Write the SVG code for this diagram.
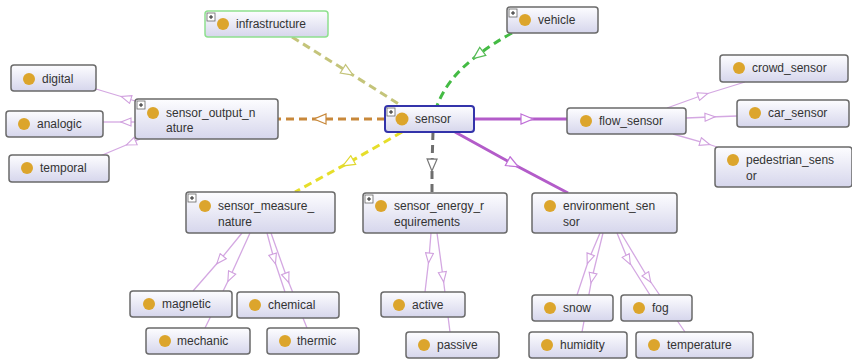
<svg xmlns="http://www.w3.org/2000/svg" width="852" height="359" viewBox="0 0 852 359">
<defs>
<linearGradient id="g" x1="0" y1="0" x2="0" y2="1">
<stop offset="0" stop-color="#fdfdff"/>
<stop offset="1" stop-color="#d6d6ec"/>
</linearGradient>
<marker id="mOl" viewBox="0 0 14 12" refX="7" refY="6" markerWidth="14" markerHeight="12" markerUnits="userSpaceOnUse" orient="auto"><path d="M1,1 L13,6 L1,11 Z" fill="#fff" stroke="#c4c47a" stroke-width="1.2"/></marker>
<marker id="mGr" viewBox="0 0 14 12" refX="7" refY="6" markerWidth="14" markerHeight="12" markerUnits="userSpaceOnUse" orient="auto"><path d="M1,1 L13,6 L1,11 Z" fill="#fff" stroke="#55bb55" stroke-width="1.2"/></marker>
<marker id="mOr" viewBox="0 0 14 12" refX="7" refY="6" markerWidth="14" markerHeight="12" markerUnits="userSpaceOnUse" orient="auto"><path d="M1,1 L13,6 L1,11 Z" fill="#fff" stroke="#c8883a" stroke-width="1.2"/></marker>
<marker id="mYe" viewBox="0 0 14 12" refX="7" refY="6" markerWidth="14" markerHeight="12" markerUnits="userSpaceOnUse" orient="auto"><path d="M1,1 L13,6 L1,11 Z" fill="#fff" stroke="#e0d830" stroke-width="1.2"/></marker>
<marker id="mGy" viewBox="0 0 14 12" refX="7" refY="6" markerWidth="14" markerHeight="12" markerUnits="userSpaceOnUse" orient="auto"><path d="M1,1 L13,6 L1,11 Z" fill="#fff" stroke="#777" stroke-width="1.2"/></marker>
<marker id="mPu" viewBox="0 0 14 12" refX="7" refY="6" markerWidth="14" markerHeight="12" markerUnits="userSpaceOnUse" orient="auto"><path d="M1,1 L13,6 L1,11 Z" fill="#fff" stroke="#c070d8" stroke-width="1.2"/></marker>
<marker id="mLa" viewBox="0 0 12 10" refX="6" refY="5" markerWidth="12" markerHeight="10" markerUnits="userSpaceOnUse" orient="auto"><path d="M1,1 L11,5 L1,9 Z" fill="#fff" stroke="#d0a0de" stroke-width="1.1"/></marker>
<g id="plus"><rect x="0" y="0" width="8" height="8" fill="#fff" stroke="#666" stroke-width="0.8"/><path d="M2,4 H6 M4,2 V6" stroke="#222" stroke-width="1"/></g>
</defs>
<style>
.n rect.b{fill:url(#g);stroke:#6a6a6a;stroke-width:1.5}
.n circle{fill:#dca52c}
.n text{font-family:"Liberation Sans",Arial,sans-serif;font-size:12px;fill:#333}
.d{fill:none;stroke-width:3;stroke-dasharray:8 5}
.p{fill:none;stroke:#b35cc9;stroke-width:3}
.s{fill:none;stroke:#d4a8e2;stroke-width:1.3}
</style>
<g id="connectors">
<path class="d" stroke="#c4c47a" marker-mid="url(#mOl)" d="M292,37 L348,72 L402,106"/>
<path class="d" stroke="#44bb44" marker-mid="url(#mGr)" d="M512,33 Q492,44 478,55 Q447,78 437,106"/>
<path class="d" stroke="#c8883a" marker-mid="url(#mOr)" d="M385,119 L320,119 L278,119"/>
<path class="d" stroke="#e6de2a" marker-mid="url(#mYe)" d="M402,132 L348,163 L295,192"/>
<path class="d" stroke="#6e6e6e" marker-mid="url(#mGy)" d="M433,132 L432,165 L432,193"/>
<path class="p" marker-mid="url(#mPu)" d="M474,119 L527,119 L567,119"/>
<path class="p" marker-mid="url(#mPu)" d="M455,132 L513,164 L568,193"/>
<path class="s" marker-mid="url(#mLa)" d="M135,101 L126,98 L96,89"/>
<path class="s" marker-mid="url(#mLa)" d="M135,122 L126,122 L103,122"/>
<path class="s" marker-mid="url(#mLa)" d="M140,139 L131,143 L100,156"/>
<path class="s" marker-mid="url(#mLa)" d="M667,108 L703,95 L745,82"/>
<path class="s" marker-mid="url(#mLa)" d="M686,118 L710,117 L737,116"/>
<path class="s" marker-mid="url(#mLa)" d="M673,134 L705,143 L717,147"/>
<path class="s" marker-mid="url(#mLa)" d="M242,233 L220,260 L193,291"/>
<path class="s" marker-mid="url(#mLa)" d="M250,233 L230,277 L205,328"/>
<path class="s" marker-mid="url(#mLa)" d="M267,233 L274,259 L285,292"/>
<path class="s" marker-mid="url(#mLa)" d="M271,233 L287,278 L307,328"/>
<path class="s" marker-mid="url(#mLa)" d="M431,233 L429,258 L425,292"/>
<path class="s" marker-mid="url(#mLa)" d="M437,233 L443,277 L450,332"/>
<path class="s" marker-mid="url(#mLa)" d="M600,233 L589,259 L577,295"/>
<path class="s" marker-mid="url(#mLa)" d="M603,233 L592,278 L582,332"/>
<path class="s" marker-mid="url(#mLa)" d="M617,233 L628,260 L650,295"/>
<path class="s" marker-mid="url(#mLa)" d="M621,233 L648,278 L685,332"/>
</g>
<g id="infrastructure" class="n"><rect class="b" x="205" y="11" width="123" height="26" rx="3" style="stroke:#8ee08e"/><use href="#plus" x="207" y="13"/><circle cx="223" cy="24" r="6"/><text x="236" y="28">infrastructure</text></g>
<g id="vehicle" class="n"><rect class="b" x="507" y="7" width="91" height="26" rx="3"/><use href="#plus" x="509" y="9"/><circle cx="525" cy="20" r="6"/><text x="538" y="24">vehicle</text></g>
<g id="digital" class="n"><rect class="b" x="11" y="65" width="85" height="26" rx="3"/><circle cx="29" cy="79" r="6"/><text x="42" y="83">digital</text></g>
<g id="analogic" class="n"><rect class="b" x="6" y="111" width="97" height="26" rx="3"/><circle cx="24" cy="124" r="6"/><text x="37" y="128">analogic</text></g>
<g id="temporal" class="n"><rect class="b" x="9" y="155" width="100" height="27" rx="3"/><circle cx="27" cy="168" r="6"/><text x="40" y="172">temporal</text></g>
<g id="sensor_output_nature" class="n"><rect class="b" x="135" y="99" width="143" height="40" rx="3"/><use href="#plus" x="137" y="101"/><circle cx="153" cy="113" r="6"/><text x="166" y="117">sensor_output_n</text><text x="166" y="132">ature</text></g>
<g id="sensor" class="n"><rect class="b" x="385" y="106" width="89" height="26" rx="3" style="stroke:#3333aa;stroke-width:2"/><use href="#plus" x="387" y="108"/><circle cx="402" cy="119" r="6.5"/><text x="415" y="123">sensor</text></g>
<g id="flow_sensor" class="n"><rect class="b" x="567" y="108" width="119" height="26" rx="3"/><circle cx="586" cy="121" r="6"/><text x="599" y="125">flow_sensor</text></g>
<g id="crowd_sensor" class="n"><rect class="b" x="720" y="55" width="128" height="27" rx="3"/><circle cx="739" cy="68" r="6"/><text x="752" y="72">crowd_sensor</text></g>
<g id="car_sensor" class="n"><rect class="b" x="737" y="100" width="112" height="27" rx="3"/><circle cx="755" cy="113" r="6"/><text x="768" y="117">car_sensor</text></g>
<g id="pedestrian_sensor" class="n"><rect class="b" x="715" y="147" width="137" height="40" rx="3"/><circle cx="733" cy="160" r="6"/><text x="746" y="164">pedestrian_sens</text><text x="746" y="180">or</text></g>
<g id="sensor_measure_nature" class="n"><rect class="b" x="186" y="192" width="149" height="41" rx="3"/><use href="#plus" x="188" y="194"/><circle cx="205" cy="206" r="6"/><text x="218" y="210">sensor_measure_</text><text x="218" y="226">nature</text></g>
<g id="sensor_energy_requirements" class="n"><rect class="b" x="363" y="193" width="144" height="40" rx="3"/><use href="#plus" x="365" y="195"/><circle cx="381" cy="206" r="6"/><text x="394" y="210">sensor_energy_r</text><text x="394" y="226">equirements</text></g>
<g id="environment_sensor" class="n"><rect class="b" x="532" y="193" width="145" height="40" rx="3"/><circle cx="550" cy="206" r="6"/><text x="563" y="210">environment_sen</text><text x="563" y="226">sor</text></g>
<g id="magnetic" class="n"><rect class="b" x="130" y="291" width="102" height="26" rx="3"/><circle cx="149" cy="304" r="6"/><text x="162" y="308">magnetic</text></g>
<g id="chemical" class="n"><rect class="b" x="237" y="292" width="102" height="26" rx="3"/><circle cx="255" cy="305" r="6"/><text x="268" y="309">chemical</text></g>
<g id="mechanic" class="n"><rect class="b" x="146" y="328" width="104" height="26" rx="3"/><circle cx="165" cy="341" r="6"/><text x="177" y="345">mechanic</text></g>
<g id="thermic" class="n"><rect class="b" x="267" y="328" width="92" height="26" rx="3"/><circle cx="285" cy="341" r="6"/><text x="297" y="345">thermic</text></g>
<g id="active" class="n"><rect class="b" x="381" y="292" width="84" height="25" rx="3"/><circle cx="399" cy="305" r="6"/><text x="412" y="309">active</text></g>
<g id="passive" class="n"><rect class="b" x="406" y="332" width="93" height="26" rx="3"/><circle cx="424" cy="345" r="6"/><text x="437" y="349">passive</text></g>
<g id="snow" class="n"><rect class="b" x="532" y="295" width="81" height="26" rx="3"/><circle cx="550" cy="308" r="6"/><text x="563" y="312">snow</text></g>
<g id="fog" class="n"><rect class="b" x="621" y="295" width="71" height="26" rx="3"/><circle cx="639" cy="308" r="6"/><text x="652" y="312">fog</text></g>
<g id="humidity" class="n"><rect class="b" x="529" y="332" width="98" height="26" rx="3"/><circle cx="547" cy="345" r="6"/><text x="560" y="349">humidity</text></g>
<g id="temperature" class="n"><rect class="b" x="636" y="332" width="117" height="26" rx="3"/><circle cx="654" cy="345" r="6"/><text x="667" y="349">temperature</text></g>
</svg>
